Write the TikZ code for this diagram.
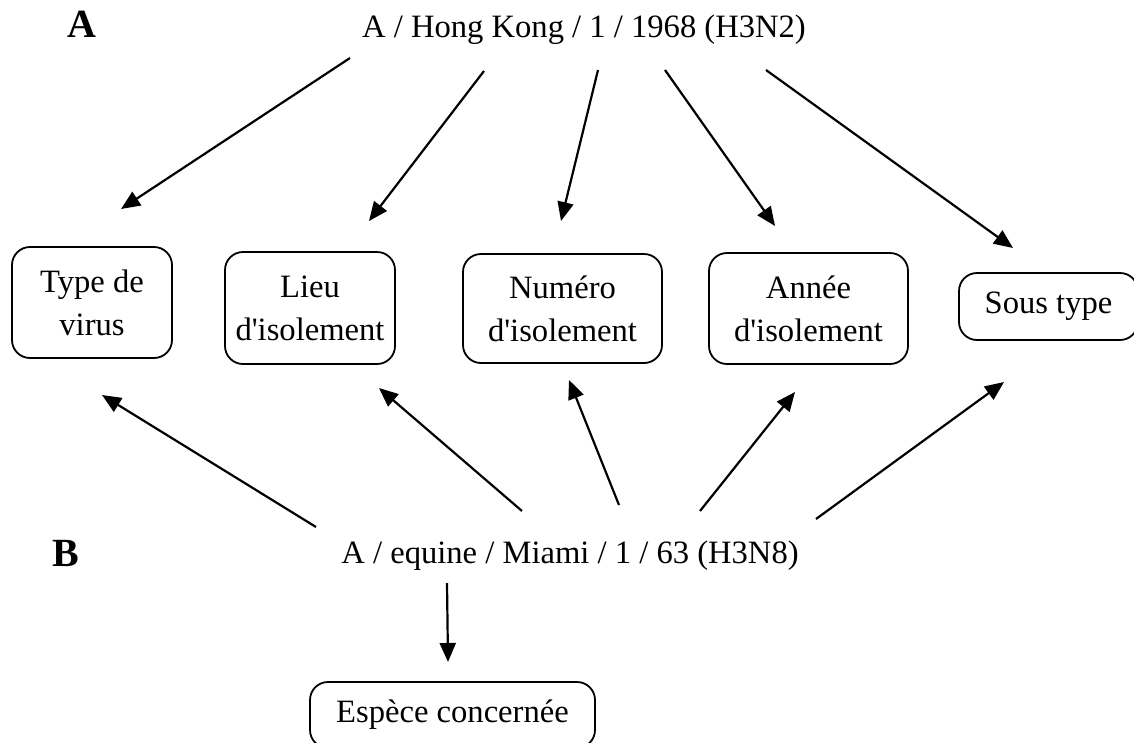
\documentclass[tikz,border=0pt]{standalone}
\usepackage{fontspec}
\setmainfont{Liberation Serif}[Ligatures=TeXOff]
\usetikzlibrary{arrows.meta}
\begin{document}
\begin{tikzpicture}[x=1pt,y=-1pt,
  txt/.style={font=\fontsize{32.6}{43}\selectfont, inner sep=0pt},
  big/.style={font=\fontsize{40}{44}\selectfont\bfseries, inner sep=0pt},
  box/.style={draw, line width=1.8pt, rounded corners=18pt, align=center,
    inner sep=0pt, font=\fontsize{32.6}{43}\selectfont},
  arr/.style={line width=2.2pt, -{Triangle[length=19pt,width=16pt]}}]
\useasboundingbox (0,0) rectangle (1134,742);
% labels
\node[big] (la) at (82,24) {A};
\node[big] (lb) at (66,553) {B};
\node[txt] (top) at (584,30) {A / Hong Kong / 1 / 1968 (H3N2)};
\node[txt] (bot) at (570,556) {A / equine / Miami / 1 / 63 (H3N8)};
% boxes
\node[box, minimum width=160pt, minimum height=111pt] (tv) at (92,302.5) {Type de\\virus};
\node[box, minimum width=170pt, minimum height=112pt] (lieu) at (310,308) {Lieu\\d'isolement};
\node[box, minimum width=199pt, minimum height=109pt] (num) at (562.5,308.5) {Numéro\\d'isolement};
\node[box, minimum width=199pt, minimum height=111pt] (annee) at (808.5,308.5) {Année\\d'isolement};
\node[box, minimum width=179pt, minimum height=67pt] (sous) at (1048.5,306.5) {Sous type};
\node[box, minimum width=285pt, minimum height=66pt] (esp) at (452.5,715) {Espèce concernée};
% arrow ends
\coordinate (t1s) at (350,58);  \coordinate (t1e) at (121,209);
\coordinate (t2s) at (484,71);  \coordinate (t2e) at (369,221);
\coordinate (t3s) at (598,70);  \coordinate (t3e) at (561,221);
\coordinate (t4s) at (665,70);  \coordinate (t4e) at (775,226);
\coordinate (t5s) at (766,70);  \coordinate (t5e) at (1013,248);
\coordinate (b1s) at (316,527); \coordinate (b1e) at (102,395);
\coordinate (b2s) at (522,511); \coordinate (b2e) at (379,388);
\coordinate (b3s) at (619,505); \coordinate (b3e) at (569,380);
\coordinate (b4s) at (700,511); \coordinate (b4e) at (795,392);
\coordinate (b5s) at (816,519); \coordinate (b5e) at (1004,382);
\coordinate (b6s) at (447,583); \coordinate (b6e) at (448,662);
\foreach \a in {t1,t2,t3,t4,t5,b1,b2,b3,b4,b5,b6}
  \draw[arr] (\a s) -- (\a e);
\end{tikzpicture}
\end{document}
